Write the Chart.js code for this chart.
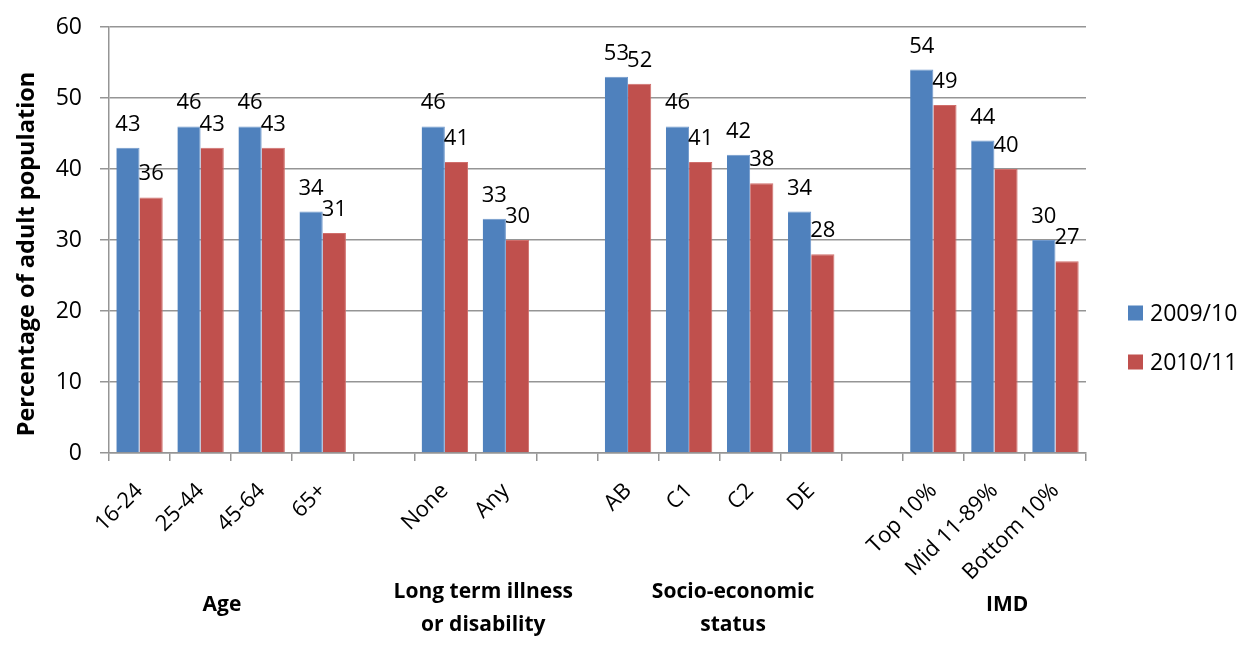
<!DOCTYPE html>
<html>
<head>
<meta charset="utf-8">
<script src="https://cdn.jsdelivr.net/npm/chart.js@4/dist/chart.umd.min.js"></script>
<style>
  html, body { margin: 0; padding: 0; background: #fff; }
  #wrap { width: 1241px; height: 646px; position: relative; }
</style>
</head>
<body>
<div id="wrap"><canvas id="c" width="1241" height="646"></canvas></div>
<script>
// Categories, with blank slots separating the four groups
const categories = ['16-24', '25-44', '45-64', '65+', '',
                    'None', 'Any', '',
                    'AB', 'C1', 'C2', 'DE', '',
                    'Top 10%', 'Mid 11-89%', 'Bottom 10%'];

// Percentage of adult population, per survey year
const series2009 = [43, 46, 46, 34, null, 46, 33, null, 53, 46, 42, 34, null, 54, 44, 30];
const series2010 = [36, 43, 43, 31, null, 41, 30, null, 52, 41, 38, 28, null, 49, 40, 27];

const seriesNames = ['2009/10', '2010/11'];
const yTicks = [0, 10, 20, 30, 40, 50, 60];

// Group headings under the category labels (centre given in category units)
const groupLabels = [
  { lines: ['Age'], at: 1.35 },
  { lines: ['Long term illness', 'or disability'], at: 5.63 },
  { lines: ['Socio-economic', 'status'], at: 9.72 },
  { lines: ['IMD'], at: 14.21 }
];

const FONT = "'Open Sans', 'Liberation Sans', sans-serif";
const BLUE = '#4F81BD';
const RED = '#C0504D';
const GRID = '#959595';

// Value labels above each bar
const valueLabels = {
  id: 'valueLabels',
  afterDatasetsDraw(chart) {
    const ctx = chart.ctx;
    ctx.save();
    ctx.font = '22px ' + FONT;
    ctx.fillStyle = '#000';
    ctx.textAlign = 'center';
    ctx.textBaseline = 'alphabetic';
    chart.data.datasets.forEach((ds, di) => {
      const meta = chart.getDatasetMeta(di);
      meta.data.forEach((bar, i) => {
        const v = ds.data[i];
        if (v === null || v === undefined) return;
        ctx.fillText(String(v), bar.x, bar.y - 17);
      });
    });
    ctx.restore();
  }
};

// Group headings, y-axis title and legend
const decorations = {
  id: 'decorations',
  afterDraw(chart) {
    const ctx = chart.ctx;
    const xs = chart.scales.x;
    ctx.save();
    ctx.fillStyle = '#000';

    // group headings
    ctx.font = 'bold 21px ' + FONT;
    ctx.textAlign = 'center';
    ctx.textBaseline = 'middle';
    groupLabels.forEach(g => {
      const x = xs.getPixelForValue(g.at);
      const top = g.lines.length > 1 ? 592 : 605;
      g.lines.forEach((t, k) => ctx.fillText(t, x, top + k * 33));
    });

    // y-axis title
    ctx.save();
    ctx.translate(27, 254);
    ctx.rotate(-Math.PI / 2);
    ctx.font = 'bold 23.5px ' + FONT;
    ctx.textAlign = 'center';
    ctx.textBaseline = 'middle';
    ctx.fillText('Percentage of adult population', 0, 0);
    ctx.restore();

    // legend
    ctx.font = '23px ' + FONT;
    ctx.textAlign = 'left';
    ctx.textBaseline = 'middle';
    chart.data.datasets.forEach((ds, i) => {
      const y = 313 + i * 49;
      ctx.fillStyle = ds.backgroundColor;
      ctx.fillRect(1128, y - 7.5, 15, 15);
      ctx.fillStyle = '#000';
      ctx.fillText(ds.label, 1150, y + 1);
    });
    ctx.restore();
  }
};

new Chart(document.getElementById('c'), {
  type: 'bar',
  data: {
    labels: categories,
    datasets: [
      { label: seriesNames[0], data: series2009, backgroundColor: BLUE,
        borderColor: '#6F98CC', borderWidth: { right: 1, top: 1, left: 0, bottom: 0 } },
      { label: seriesNames[1], data: series2010, backgroundColor: RED,
        borderColor: '#D06E6B', borderWidth: { right: 1, top: 1, left: 0, bottom: 0 } }
    ]
  },
  options: {
    responsive: false,
    animation: false,
    events: [],
    layout: { padding: { left: 0, top: 27, right: 155, bottom: 0 } },
    datasets: { bar: { categoryPercentage: 0.76, barPercentage: 1.0 } },
    plugins: { legend: { display: false }, tooltip: { enabled: false } },
    scales: {
      x: {
        offset: true,
        grid: { display: true, offset: true, drawOnChartArea: false, drawTicks: true,
                tickLength: 8, color: GRID, lineWidth: 1.5 },
        border: { color: GRID, width: 1.5 },
        ticks: { autoSkip: false, maxRotation: 45, minRotation: 45, padding: 17,
                 color: '#000', font: { family: FONT, size: 22 } },
        afterFit(scale) { scale.height = 193; }
      },
      y: {
        min: 0, max: 60,
        afterBuildTicks(scale) { scale.ticks = yTicks.map(v => ({ value: v })); },
        grid: { color: GRID, lineWidth: 1.5, tickLength: 9 },
        border: { color: GRID, width: 1.5 },
        ticks: { padding: 18, color: '#000', font: { family: FONT, size: 23 } },
        afterFit(scale) {
          scale.width = 109;
          // the top tick label fits inside the layout padding
          scale.paddingTop = 0;
          scale.paddingBottom = 0;
        }
      }
    }
  },
  plugins: [valueLabels, decorations]
});
</script>
</body>
</html>
